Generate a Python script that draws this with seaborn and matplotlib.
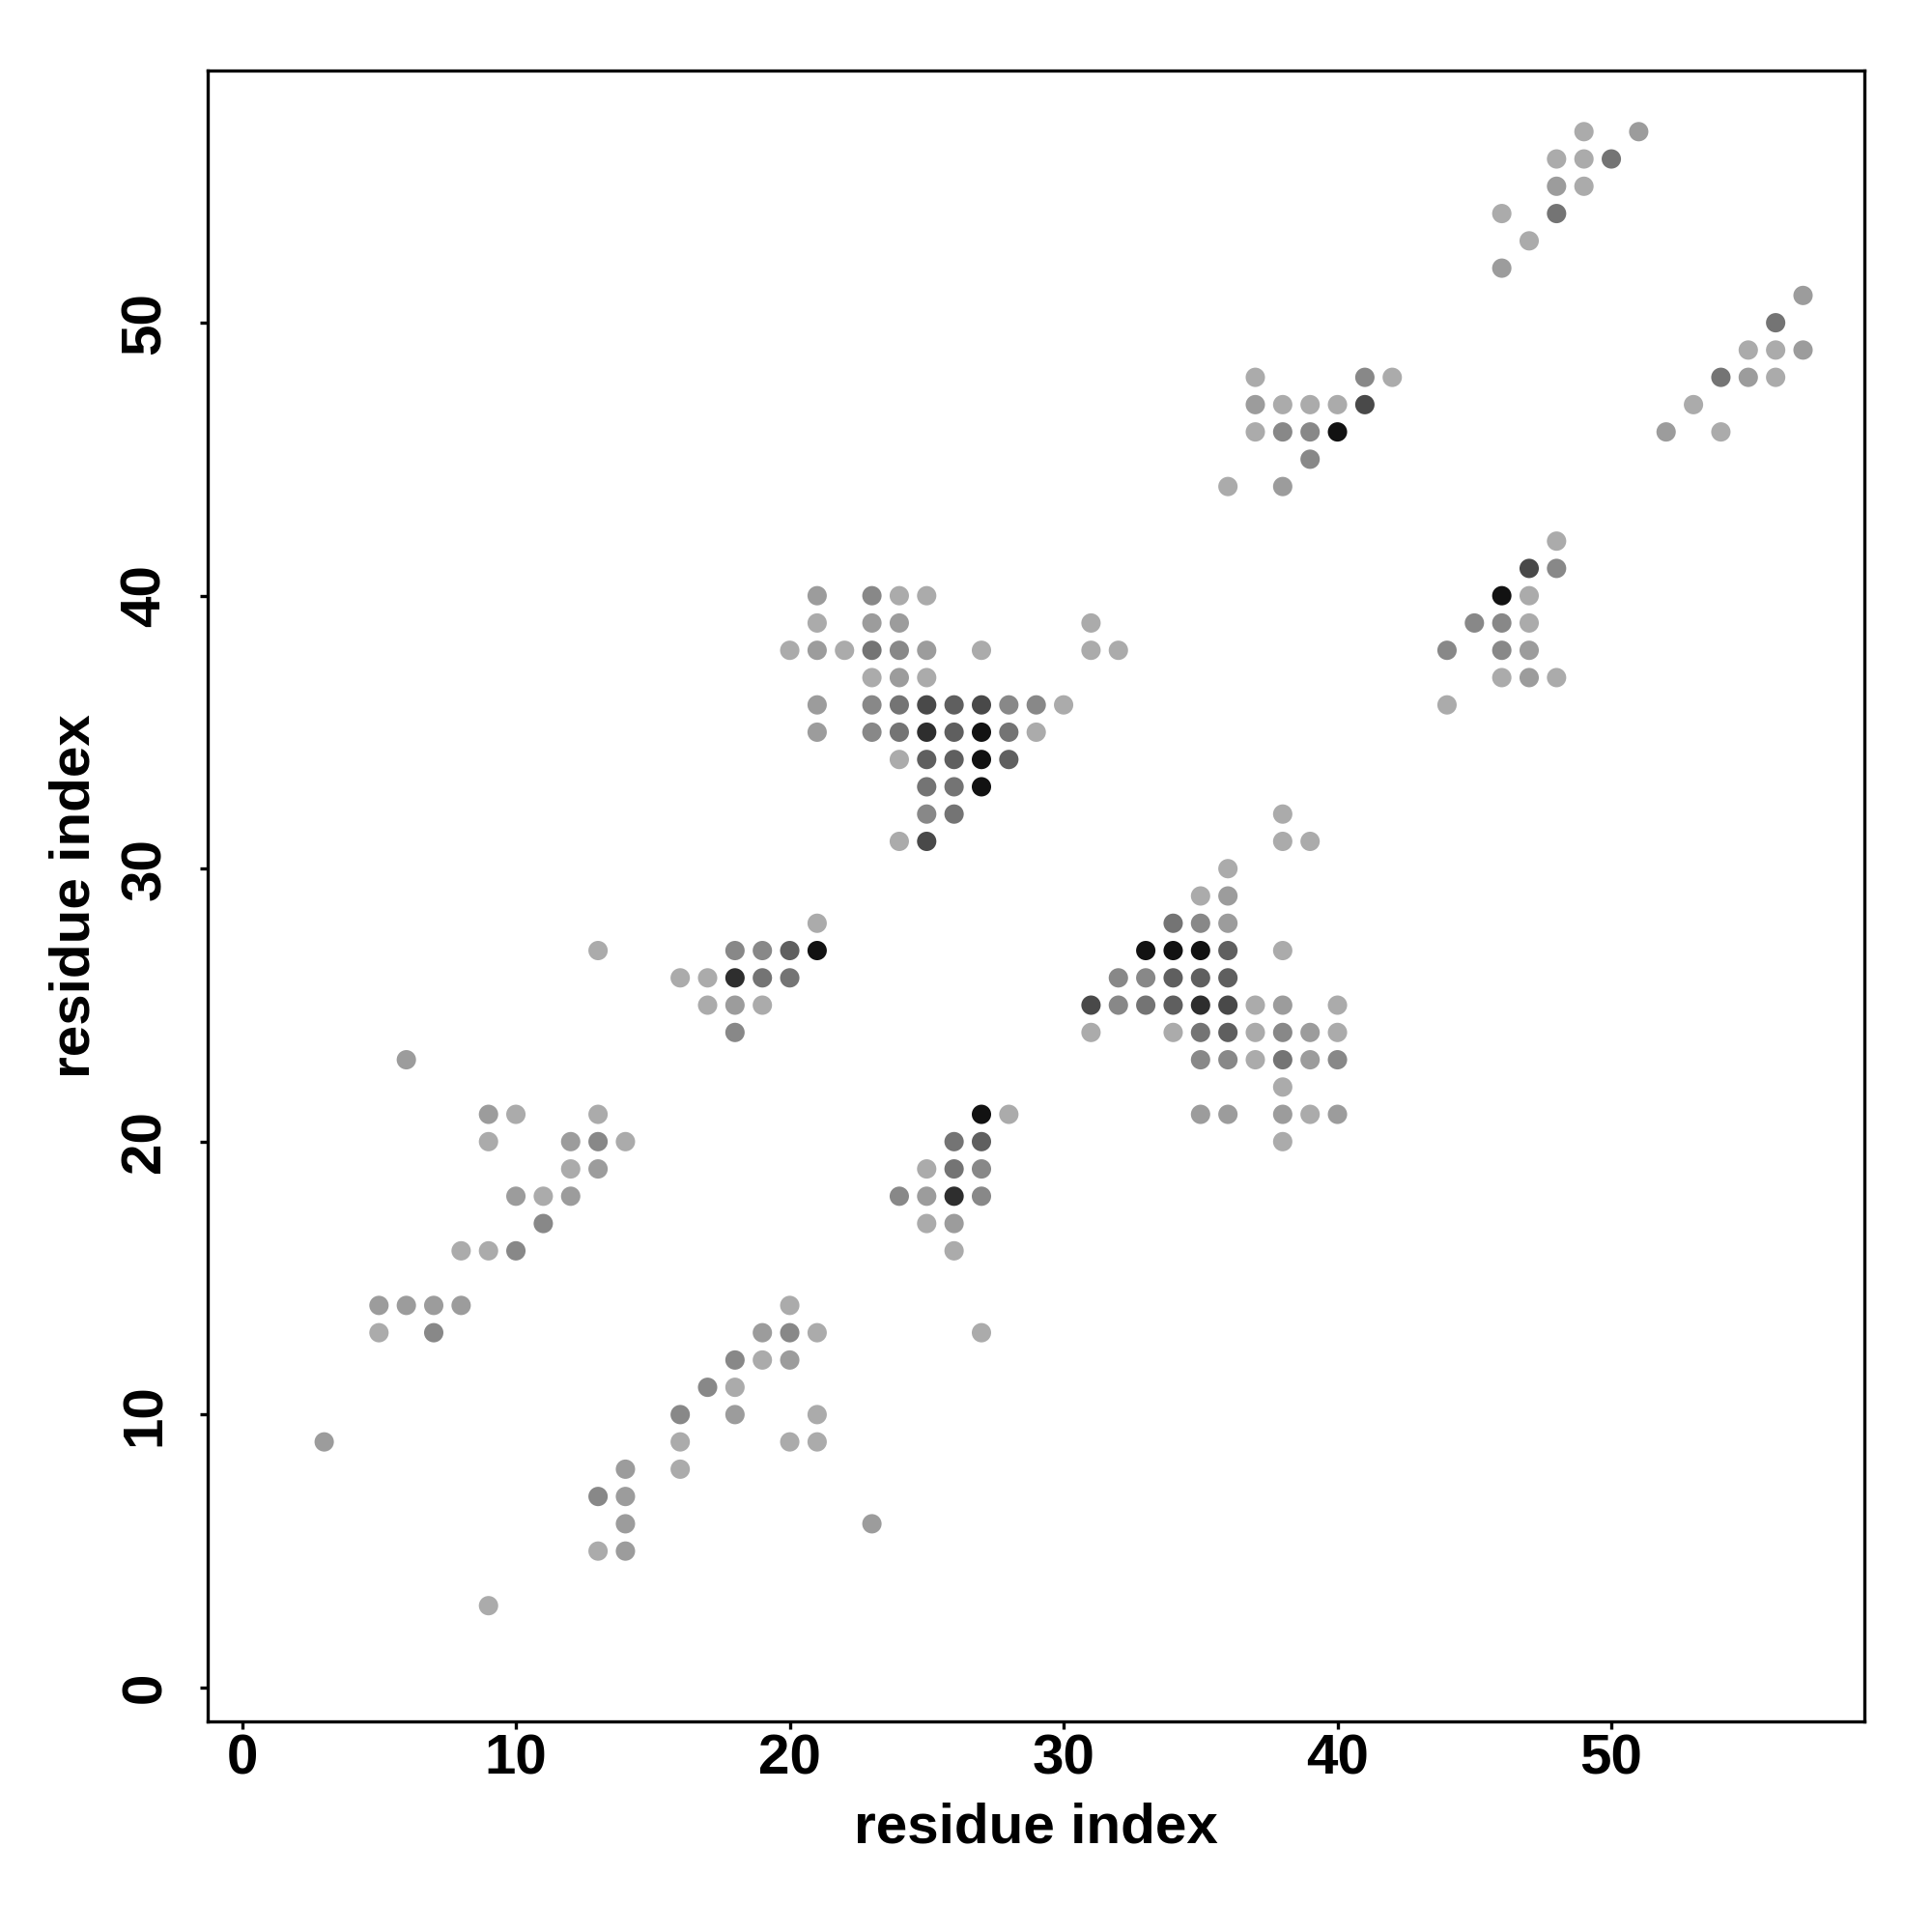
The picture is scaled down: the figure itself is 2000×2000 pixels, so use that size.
import numpy as np
import pandas as pd
import seaborn as sns
import matplotlib.pyplot as plt

# residue contact map: (i, j) pairs and contact strength (1 = weak .. 8 = strong)
res_i = [3, 9,
         5, 6, 7, 8, 5, 7,
         14, 13, 14, 14, 13, 14,
         6, 9, 10, 13, 9, 12, 13, 14, 12, 13, 10, 11, 12, 11, 8, 9, 10,
         13,
         16, 16, 16, 17, 18, 18, 19, 20, 18, 19, 20, 21, 20, 21, 20, 21,
         23, 27,
         21, 18, 19, 20, 21, 16, 17, 18, 19, 20, 17, 18, 19, 18,
         27, 28, 26, 27, 25, 26, 27, 24, 25, 26, 27, 25, 26, 26,
         21, 23, 24, 25,
         21, 23, 24, 31,
         20, 21, 22, 23, 24, 25, 27, 31, 32,
         23, 24, 25,
         21, 23, 24, 25, 26, 27, 28, 29, 30,
         21, 23, 24, 25, 26, 27, 28, 29,
         24, 25, 26, 27, 28,
         25, 26, 27,
         25, 26,
         24, 25,
         38, 38, 39, 36, 35, 36, 34, 35, 36,
         33, 34, 35, 36, 38,
         32, 33, 34, 35, 36,
         31, 32, 33, 34, 35, 36, 37, 38, 40,
         31, 34, 35, 36, 37, 38, 39, 40,
         35, 36, 37, 38, 39, 40,
         38,
         35, 36, 38, 39, 40,
         38,
         37, 41, 42, 37, 38, 39, 40, 41, 37, 38, 39, 40, 39, 36, 38,
         49, 51, 48, 49, 50, 48, 49, 46, 48, 47, 46,
         57, 56, 55, 56, 57, 54, 55, 56, 53, 52, 54,
         48, 47, 48, 46, 47, 45, 46, 47, 44, 46, 47, 46, 47, 48, 44]

res_j = [9, 3,
         14, 14, 14, 14, 13, 13,
         8, 7, 7, 6, 5, 5,
         23, 21, 21, 21, 20, 20, 20, 20, 19, 19, 18, 18, 18, 17, 16, 16, 16,
         27,
         10, 9, 8, 11, 11, 12, 12, 12, 10, 13, 13, 13, 14, 10, 9, 9,
         6, 13,
         28, 27, 27, 27, 27, 26, 26, 26, 26, 26, 25, 25, 25, 24,
         21, 21, 20, 20, 19, 19, 19, 18, 18, 18, 18, 17, 17, 16,
         40, 40, 40, 40,
         39, 39, 39, 39,
         38, 38, 38, 38, 38, 38, 38, 38, 38,
         37, 37, 37,
         36, 36, 36, 36, 36, 36, 36, 36, 36,
         35, 35, 35, 35, 35, 35, 35, 35,
         34, 34, 34, 34, 34,
         33, 33, 33,
         32, 32,
         31, 31,
         32, 31, 31, 30, 29, 29, 28, 28, 28,
         27, 27, 27, 27, 27,
         26, 26, 26, 26, 26,
         25, 25, 25, 25, 25, 25, 25, 25, 25,
         24, 24, 24, 24, 24, 24, 24, 24,
         23, 23, 23, 23, 23, 23,
         22,
         21, 21, 21, 21, 21,
         20,
         48, 48, 48, 47, 47, 47, 47, 47, 46, 46, 46, 46, 45, 44, 44,
         57, 57, 56, 56, 56, 55, 55, 54, 54, 53, 52,
         51, 50, 49, 49, 49, 48, 48, 48, 47, 46, 46,
         42, 41, 41, 40, 40, 39, 39, 39, 38, 38, 38, 37, 37, 37, 36]

strength = [2, 1,
            2, 2, 2, 2, 1, 3,
            2, 3, 2, 2, 1, 2,
            2, 2, 1, 1, 1, 2, 3, 1, 1, 2, 2, 1, 2, 3, 1, 1, 3,
            1,
            3, 1, 1, 3, 1, 3, 1, 2, 2, 2, 3, 1, 1, 1, 1, 1,
            2, 1,
            1, 3, 3, 5, 8, 1, 1, 7, 4, 4, 1, 2, 1, 3,
            8, 1, 4, 5, 1, 4, 3, 3, 2, 7, 3, 1, 2, 1,
            2, 3, 1, 1,
            1, 2, 2, 1,
            1, 2, 1, 4, 3, 2, 1, 1, 1,
            1, 2, 1,
            2, 3, 4, 6, 5, 6, 3, 3, 1,
            2, 3, 4, 7, 5, 8, 4, 1,
            1, 5, 5, 8, 5,
            4, 4, 8,
            3, 4,
            1, 6,
            1, 1, 1, 1, 1, 2, 4, 3, 2,
            8, 8, 8, 5, 1,
            3, 3, 5, 5, 5,
            6, 3, 4, 5, 7, 6, 1, 2, 1,
            1, 1, 4, 5, 1, 3, 2, 1,
            3, 3, 1, 4, 2, 3,
            1,
            2, 2, 2, 1, 2,
            1,
            1, 3, 1, 2, 1, 1, 1, 6, 1, 3, 3, 8, 3, 1, 2,
            1, 2, 1, 1, 4, 2, 1, 1, 4, 1, 2,
            2, 4, 1, 1, 2, 4, 2, 1, 1, 2, 1,
            1, 6, 3, 8, 1, 3, 3, 1, 3, 3, 2, 1, 2, 1, 1]

df = pd.DataFrame({"i": res_i, "j": res_j, "strength": strength})

grays = {1: "#ababab", 2: "#9c9c9c", 3: "#888888", 4: "#747474",
         5: "#5f5f5f", 6: "#494949", 7: "#2e2e2e", 8: "#121212"}

sns.set_style("white")
plt.rcParams["font.family"] = ["Liberation Sans", "DejaVu Sans"]
plt.rcParams["font.weight"] = "bold"
plt.rcParams["text.color"] = "black"
plt.rcParams["axes.labelcolor"] = "black"
plt.rcParams["xtick.color"] = "black"
plt.rcParams["ytick.color"] = "black"

fig, ax = plt.subplots(figsize=(10, 10), dpi=200)
fig.subplots_adjust(left=0.1077, right=0.965, bottom=0.109, top=0.9635)

sns.scatterplot(data=df, x="i", y="j", hue="strength", palette=grays,
                s=52, linewidth=0, legend=False, ax=ax)

ax.set_xlim(-1.24, 59.24)
ax.set_ylim(-1.24, 59.24)
ax.set_xticks(np.arange(0, 51, 10))
ax.set_yticks(np.arange(0, 51, 10))

for sp in ax.spines.values():
    sp.set_color("black")
    sp.set_linewidth(1.2)

ax.tick_params(axis="both", which="major", direction="out", length=3,
               width=1.2, colors="black", labelsize=21, bottom=True, left=True)
ax.tick_params(axis="x", pad=1.5)
ax.tick_params(axis="y", pad=10.5, labelrotation=90)
for lab in ax.get_yticklabels():
    lab.set_va("center")
    lab.set_fontweight("bold")
for lab in ax.get_xticklabels():
    lab.set_fontweight("bold")

ax.set_xlabel("residue index", fontsize=21, fontweight="bold", labelpad=6,
              color="black")
ax.set_ylabel("residue index", fontsize=21, fontweight="bold", labelpad=7,
              color="black")

fig.savefig("out.png", dpi=200, facecolor="white")
